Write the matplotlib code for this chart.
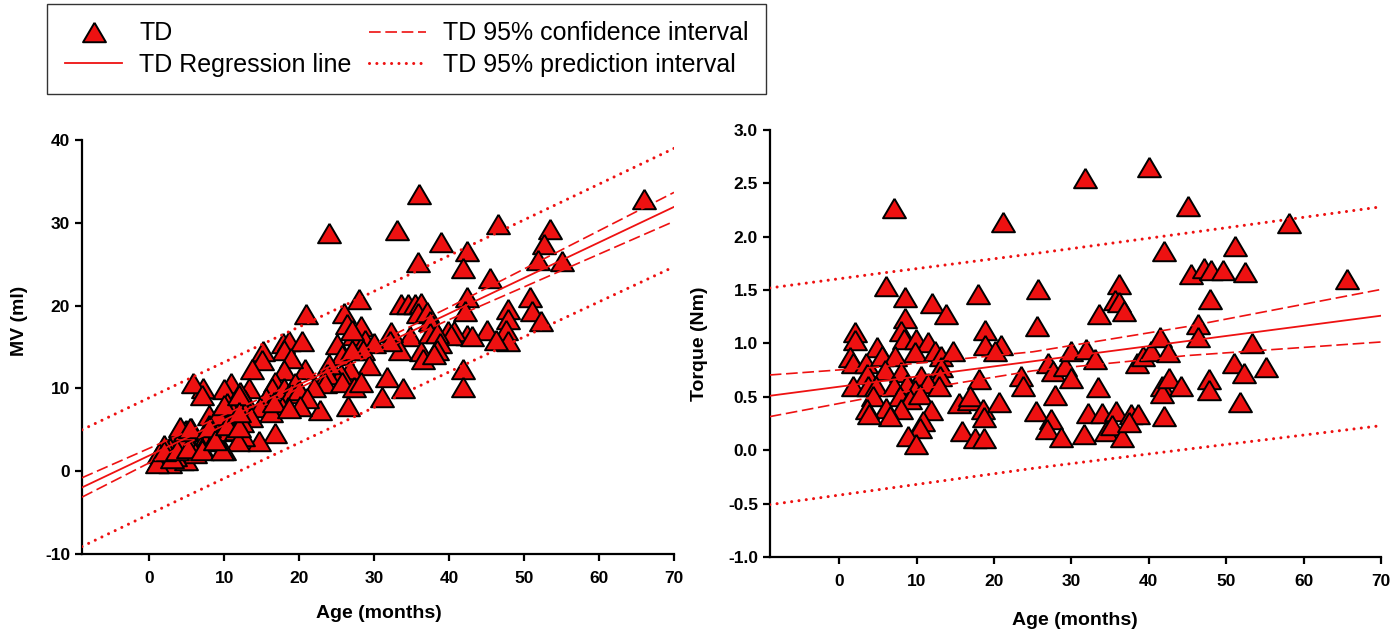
import numpy as np
import matplotlib
matplotlib.use('Agg')
import matplotlib.pyplot as plt
from matplotlib.lines import Line2D

plt.rcParams['font.family'] = ['Liberation Sans', 'DejaVu Sans']
plt.rcParams['axes.unicode_minus'] = False

# MV (ml) vs age (months), TD group
mv_age = [36.0, 66.0, 24.0, 33.0, 46.5, 53.4, 38.9, 52.6, 42.4, 35.8, 51.8, 41.9, 55.0, 45.4,
          28.0, 20.9, 42.4, 50.8, 47.9, 42.1, 51.0, 52.2, 47.9, 47.6, 47.9, 45.0, 46.2, 42.4,
          39.8, 40.7, 40.3, 41.9, 41.9, 33.6, 34.5, 35.4, 36.3, 35.8, 37.0, 37.5, 34.8, 36.3,
          37.5, 38.4, 38.8, 38.4, 33.5, 32.3, 32.1, 31.7, 33.9, 31.1, 26.0, 26.3, 25.0, 25.7,
          28.2, 27.3, 28.8, 30.0, 28.5, 27.0, 29.3, 26.8, 25.5, 24.0, 23.7, 23.4, 22.0, 25.7,
          27.3, 28.2, 26.5, 22.7, 20.7, 17.8, 18.6, 18.0, 20.4, 18.9, 18.0, 16.8, 16.3, 18.0,
          19.4, 18.9, 19.9, 21.0, 20.1, 18.5, 15.6, 16.1, 17.7, 16.8, 14.6, 15.1, 15.0, 13.7,
          13.3, 12.7, 14.8, 10.9, 10.0, 12.1, 10.3, 12.1, 11.2, 12.7, 13.6, 12.4, 10.3, 9.0,
          9.7, 11.5, 12.5, 11.8, 10.0, 7.2, 5.8, 7.0, 7.9, 9.1, 7.9, 7.3, 7.0, 8.5, 5.5, 4.6,
          5.5, 5.5, 1.3, 2.2, 3.1, 3.4, 4.0, 4.9, 2.8, 1.9, 3.7, 4.3, 1.3, 2.8, 1.0, 4.9, 6.1,
          4.3, 3.4, 3.0, 1.9, 3.7, 5.2, 7.0, 9.7, 4.8, 4.1, 5.4, 7.9, 8.8, 10.3, 11.9, 9.9,
          11.9, 11.9, 16.2, 16.6, 18.6, 36.5, 38.0, 27.0, 43.1]
mv_val = [33.5, 32.9, 28.8, 29.1, 29.9, 29.3, 27.7, 27.4, 26.6, 25.3, 25.5, 24.6, 25.4, 23.4,
          20.8, 19.0, 21.1, 21.1, 19.6, 19.3, 19.3, 18.1, 18.4, 17.1, 15.7, 17.0, 15.9, 16.5,
          16.9, 16.9, 16.4, 12.4, 10.2, 20.2, 20.2, 20.2, 20.3, 19.1, 19.2, 18.1, 16.3, 14.5,
          16.7, 16.7, 15.5, 14.7, 14.7, 16.8, 15.7, 11.4, 10.0, 9.0, 19.1, 17.8, 15.4, 14.1,
          17.5, 16.5, 15.9, 15.5, 14.7, 14.7, 12.8, 12.4, 11.8, 13.0, 11.8, 10.6, 10.2, 10.8,
          10.2, 10.8, 7.9, 7.4, 12.4, 15.5, 15.7, 14.7, 15.7, 13.7, 12.2, 10.8, 10.0, 10.0,
          10.6, 9.4, 9.8, 8.9, 7.9, 7.8, 8.9, 7.8, 7.7, 4.6, 3.6, 14.5, 13.4, 12.3,
          10.0, 8.6, 7.8, 10.6, 9.9, 9.6, 8.2, 8.2, 7.2, 7.2, 6.6, 6.0, 5.8, 5.9,
          4.8, 5.0, 4.2, 3.6, 2.6, 10.0, 10.6, 9.2, 6.8, 6.8, 5.6, 3.8, 2.8, 3.6, 5.2, 3.8,
          3.2, 2.8, 1.4, 1.6, 2.0, 4.0, 4.6, 5.0, 2.8, 3.2, 2.4, 1.4, 2.2, 1.0, 1.0, 1.4, 2.2,
          3.6, 1.8, 1.6, 2.4, 2.6, 2.8, 2.6, 2.6, 4.8, 5.4, 5.2, 5.4, 3.8, 5.6, 5.4, 8.0,
          9.2, 7.2, 7.2, 8.4, 7.6, 13.5, 14.2, 17.1, 16.3]

# Torque (Nm) vs age (months), TD group
tq_age = [7.1, 21.1, 31.8, 40.0, 45.1, 58.1, 42.0, 51.2, 45.4, 47.2, 48.1, 49.6, 52.4, 65.6,
          6.0, 8.5, 17.9, 12.0, 13.8, 25.7, 36.1, 35.6, 36.1, 33.5, 36.8, 47.9, 8.5, 8.0, 8.4,
          25.6, 18.8, 18.8, 20.9, 20.1, 2.0, 2.0, 4.9, 9.9, 11.4, 9.8, 12.3, 13.1, 14.7, 1.4,
          1.7, 3.4, 5.5, 7.2, 3.6, 5.9, 8.0, 10.5, 13.1, 13.0, 1.7, 3.7, 4.7, 7.1, 8.8, 11.5,
          12.9, 4.3, 7.8, 9.8, 9.1, 10.4, 7.9, 6.0, 6.6, 3.6, 3.8, 11.9, 10.8, 10.4, 8.9, 9.9,
          18.0, 15.4, 16.8, 16.9, 18.6, 18.7, 15.9, 17.5, 18.7, 20.6, 23.5, 23.8, 25.4, 27.3,
          26.9, 28.6, 27.0, 27.6, 29.2, 27.9, 30.0, 29.9, 31.9, 33.1, 31.6, 32.1, 33.4, 34.0,
          35.7, 34.5, 35.2, 36.5, 37.7, 38.6, 37.5, 38.5, 39.2, 40.3, 41.5, 42.5, 41.7, 41.7,
          42.6, 42.0, 44.1, 46.4, 46.3, 47.8, 47.8, 51.0, 52.3, 53.3, 51.8, 55.1]
tq_val = [2.27, 2.14, 2.55, 2.65, 2.29, 2.13, 1.87, 1.91, 1.65, 1.71, 1.69, 1.69, 1.67, 1.60,
          1.54, 1.44, 1.46, 1.38, 1.28, 1.51, 1.56, 1.41, 1.39, 1.28, 1.30, 1.42, 1.24, 1.12, 1.04,
          1.16, 1.13, 0.99, 0.99, 0.93, 1.11, 1.03, 0.97, 1.04, 1.01, 0.92, 0.93, 0.88, 0.93, 0.87,
          0.82, 0.82, 0.88, 0.88, 0.71, 0.75, 0.73, 0.70, 0.78, 0.70, 0.60, 0.60, 0.60, 0.60, 0.62, 0.63,
          0.60, 0.51, 0.51, 0.56, 0.48, 0.53, 0.39, 0.40, 0.32, 0.39, 0.34, 0.38, 0.27, 0.21, 0.13, 0.06,
          0.67, 0.44, 0.47, 0.51, 0.39, 0.31, 0.18, 0.11, 0.11, 0.45, 0.70, 0.60, 0.37, 0.29,
          0.20, 0.12, 0.82, 0.74, 0.79, 0.52, 0.93, 0.68, 0.95, 0.85, 0.15, 0.35, 0.59, 0.35,
          0.37, 0.18, 0.24, 0.12, 0.34, 0.34, 0.26, 0.82, 0.88, 0.93, 1.06, 0.92, 0.60, 0.54,
          0.68, 0.32, 0.60, 1.18, 1.06, 0.67, 0.56, 0.82, 0.72, 1.00, 0.45, 0.78]

# regression line, 95% CI and 95% PI
fit_x = [-9, 5, 22, 40, 70]
mv_fit = [-1.96, 4.05, 11.34, 19.06, 31.93]
mv_ci_hi = [-0.79, 4.77, 11.74, 19.81, 33.68]
mv_ci_lo = [-3.13, 3.33, 10.94, 18.31, 30.18]
mv_pi_hi = [5.0, 11.05, 18.3, 26.05, 39.0]
mv_pi_lo = [-9.1, -3.0, 4.3, 12.0, 24.7]

tq_fit_x = [-9, 5, 25, 45, 70]
tq_fit = [0.51, 0.643, 0.833, 1.023, 1.26]
tq_ci_hi = [0.705, 0.779, 0.922, 1.159, 1.506]
tq_ci_lo = [0.315, 0.507, 0.744, 0.887, 1.014]
tq_pi_hi = [1.52, 1.655, 1.84, 2.035, 2.28]
tq_pi_lo = [-0.51, -0.37, -0.17, 0.01, 0.23]

RED = '#ee1111'
tri = [(0, 0.85), (-1, -0.85), (1, -0.85), (0, 0.85)]


def draw_panel(ax, age, val, fx, fit, ci_hi, ci_lo, pi_hi, pi_lo):
    ax.plot(age, val, linestyle='none', marker=tri, markersize=16.5,
            markerfacecolor=RED, markeredgecolor='black', markeredgewidth=1.4, zorder=2)
    ax.plot(fx, fit, color=RED, lw=1.3, zorder=3)
    for yy in (ci_hi, ci_lo):
        ax.plot(fx, yy, color=RED, lw=1.2, dashes=(7, 2.8), zorder=3)
    for yy in (pi_hi, pi_lo):
        ax.plot(fx, yy, color=RED, lw=2.2, linestyle=(0, (0.01, 2.4)),
                dash_capstyle='round', zorder=3)
    for s in ('top', 'right'):
        ax.spines[s].set_visible(False)
    for s in ('left', 'bottom'):
        ax.spines[s].set_linewidth(1.6)
    ax.tick_params(direction='out', length=5, width=1.6, labelsize=12.5)
    ax.tick_params(axis='x', pad=7)
    for lab in ax.get_xticklabels() + ax.get_yticklabels():
        lab.set_fontweight('bold')
    ax.set_xlim(-9, 70)
    ax.set_xticks(range(0, 71, 10))


fig = plt.figure(figsize=(13.92, 6.31), dpi=100)

ax1 = fig.add_axes([0.0589, 0.122, 0.4253, 0.656])
ax1.set_ylim(-10, 40)
ax1.set_yticks(range(-10, 41, 10))
draw_panel(ax1, mv_age, mv_val, fit_x, mv_fit, mv_ci_hi, mv_ci_lo, mv_pi_hi, mv_pi_lo)
ax1.set_xlabel('Age (months)', fontsize=14, fontweight='bold')
ax1.set_ylabel('MV (ml)', fontsize=14, fontweight='bold')
ax1.xaxis.set_label_coords(0.502, -0.123)
ax1.yaxis.set_label_coords(-0.091, 0.563)

ax2 = fig.add_axes([0.553, 0.1173, 0.439, 0.6767])
ax2.set_ylim(-1.0, 3.0)
ax2.set_yticks(np.arange(-1.0, 3.01, 0.5))
ax2.set_yticklabels(['%.1f' % v for v in np.arange(-1.0, 3.01, 0.5)])
draw_panel(ax2, tq_age, tq_val, tq_fit_x, tq_fit, tq_ci_hi, tq_ci_lo, tq_pi_hi, tq_pi_lo)
ax2.set_xlabel('Age (months)', fontsize=14, fontweight='bold')
ax2.set_ylabel('Torque (Nm)', fontsize=14, fontweight='bold')
ax2.xaxis.set_label_coords(0.499, -0.129)
ax2.yaxis.set_label_coords(-0.101, 0.50)

handles = [
    Line2D([], [], linestyle='none', marker=tri, markersize=16.5, markerfacecolor=RED,
           markeredgecolor='black', markeredgewidth=1.4, label='TD'),
    Line2D([], [], color=RED, lw=1.3, label='TD Regression line'),
    Line2D([], [], color=RED, lw=1.2, dashes=(7, 2.8), label='TD 95% confidence interval'),
    Line2D([], [], color=RED, lw=2.2, linestyle=(0, (0.01, 2.4)), dash_capstyle='round',
           label='TD 95% prediction interval'),
]
leg = fig.legend(handles=handles, ncol=2, loc='upper left', bbox_to_anchor=(0.034, 0.994),
                 borderaxespad=0, fontsize=18, frameon=True, fancybox=False,
                 edgecolor='black', handlelength=2.3, handletextpad=0.68,
                 columnspacing=0.68, borderpad=0.7, labelspacing=0.3)
leg.get_frame().set_linewidth(1.0)

fig.savefig('out.png', dpi=100)
